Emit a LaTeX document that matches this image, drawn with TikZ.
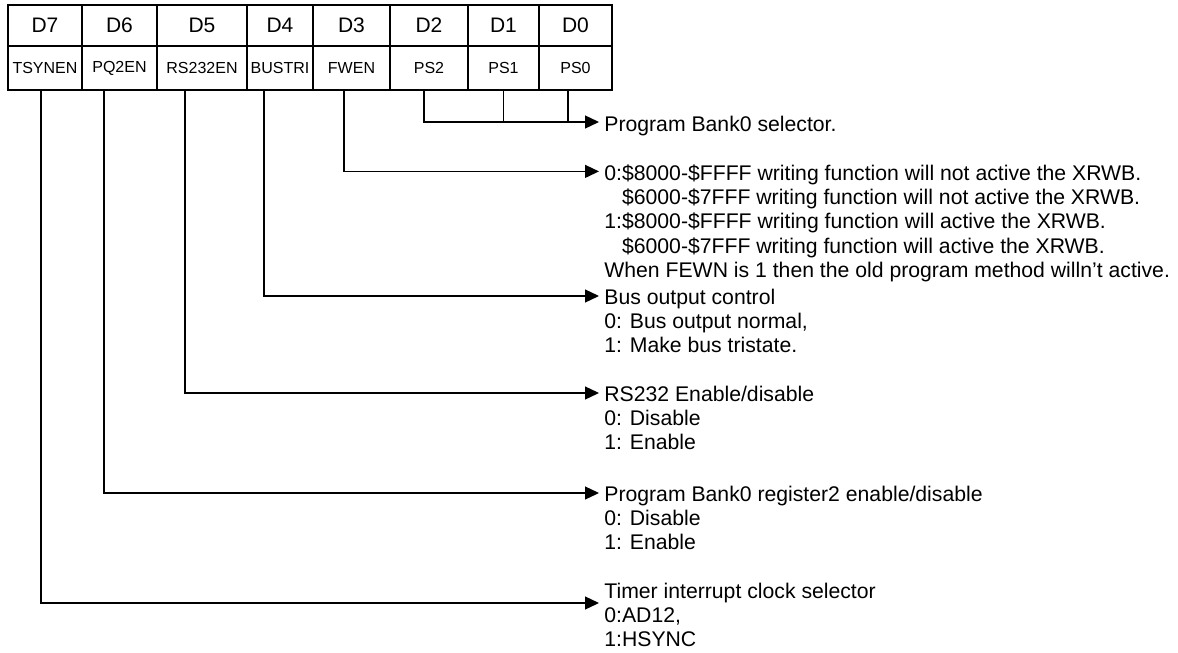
\documentclass[tikz,border=0pt]{standalone}
\usepackage{fontspec}
\setmainfont{Liberation Sans}
\usetikzlibrary{arrows.meta,positioning,calc}

\begin{document}
\begin{tikzpicture}[
    x=0.5pt, y=-0.5pt,
    cell/.style={draw, line width=1pt, outer sep=0pt, inner sep=0pt, minimum height=20.5pt},
    bitcell/.style={cell, font=\fontsize{10.5}{12}\selectfont},
    namecell/.style={cell, minimum height=22pt, font=\fontsize{8}{9.6}\selectfont},
    note/.style={anchor=north west, inner sep=0pt, align=left, font=\fontsize{10.6}{12.2}\selectfont},
    wire/.style={line width=0.65pt},
    arrow/.style={wire, -{Triangle[length=7pt,width=6.5pt]}}
  ]
    \useasboundingbox (0,0) rectangle (1178,653);
    % register bits
    \node[bitcell, minimum width=37pt] (d7) at (45,25.5) {D7};
    \node[bitcell, minimum width=37.5pt, right=0pt of d7] (d6) {D6};
    \node[bitcell, minimum width=45pt, right=0pt of d6] (d5) {D5};
    \node[bitcell, minimum width=33pt, right=0pt of d5] (d4) {D4};
    \node[bitcell, minimum width=38.5pt, right=0pt of d4] (d3) {D3};
    \node[bitcell, minimum width=39pt, right=0pt of d3] (d2) {D2};
    \node[bitcell, minimum width=35.5pt, right=0pt of d2] (d1) {D1};
    \node[bitcell, minimum width=36.5pt, right=0pt of d1] (d0) {D0};
    % bit names
    \node[namecell, minimum width=37pt, below=0pt of d7] (b7) {TSYNEN};
    \node[namecell, minimum width=37.5pt, below=0pt of d6] (b6) {PQ2EN};
    \node[namecell, minimum width=45pt, below=0pt of d5] (b5) {RS232EN};
    \node[namecell, minimum width=33pt, below=0pt of d4] (b4) {BUSTRI};
    \node[namecell, minimum width=38.5pt, below=0pt of d3] (b3) {FWEN};
    \node[namecell, minimum width=39pt, below=0pt of d2] (b2) {PS2};
    \node[namecell, minimum width=35.5pt, below=0pt of d1] (b1) {PS1};
    \node[namecell, minimum width=36.5pt, below=0pt of d0] (b0) {PS0};
    % descriptions
    \node[note] (ps) at (604,113.6) {\strut Program Bank0 selector.};
    \node[note] (fw) at (604,162.6) {\strut 0:\$8000-\$FFFF writing function will not active the XRWB.\\
      \phantom{0:}\$6000-\$7FFF writing function will not active the XRWB.\\
      1:\$8000-\$FFFF writing function will active the XRWB.\\
      \phantom{1:}\$6000-\$7FFF writing function will active the XRWB.\\
      When FEWN is 1 then the old program method willn’t active.};
    \node[note] (bus) at (604,286.6) {\strut Bus output control\\ 0: Bus output normal,\\ 1: Make bus tristate.};
    \node[note] (rs) at (604,383.6) {\strut RS232 Enable/disable\\ 0: Disable\\ 1: Enable};
    \node[note] (pq) at (604,483.6) {\strut Program Bank0 register2 enable/disable\\ 0: Disable\\ 1: Enable};
    \node[note] (ts) at (604,580.6) {\strut Timer interrupt clock selector\\ 0:AD12,\\ 1:HSYNC};
    % where the wires leave the table and where they end
    \coordinate (tap7) at ($(b7.south)+(-4,0)$);
    \coordinate (tap6) at ($(b6.south)+(-15.5,0)$);
    \coordinate (tap5) at ($(b5.south)+(-17,0)$);
    \coordinate (tap4) at ($(b4.south)+(-16,0)$);
    \coordinate (tap3) at ($(b3.south)+(-7.5,0)$);
    \coordinate (tap2) at ($(b2.south)+(-5,0)$);
    \coordinate (tap0) at ($(b0.south)+(-7.5,0)$);
    \coordinate (psin) at ([xshift=-2.5pt,yshift=-4.2pt]ps.north west);
    \coordinate (fwin) at ([xshift=-2.5pt,yshift=-4.4pt]fw.north west);
    \coordinate (busin) at ([xshift=-2.5pt,yshift=-4.7pt]bus.north west);
    \coordinate (rsin) at ([xshift=-2.5pt,yshift=-4.7pt]rs.north west);
    \coordinate (pqin) at ([xshift=-2.5pt,yshift=-4.7pt]pq.north west);
    \coordinate (tsin) at ([xshift=-2.5pt,yshift=-11.2pt]ts.north west);
    % wires
    \draw[arrow] (tap2) |- (psin);
    \draw[wire] (b1.south) -- (b1.south |- psin);
    \draw[wire] (tap0) -- (tap0 |- psin);
    \draw[arrow] (tap3) |- (fwin);
    \draw[arrow] (tap4) |- (busin);
    \draw[arrow] (tap5) |- (rsin);
    \draw[arrow] (tap6) |- (pqin);
    \draw[arrow] (tap7) |- (tsin);
  \end{tikzpicture}
\end{document}
